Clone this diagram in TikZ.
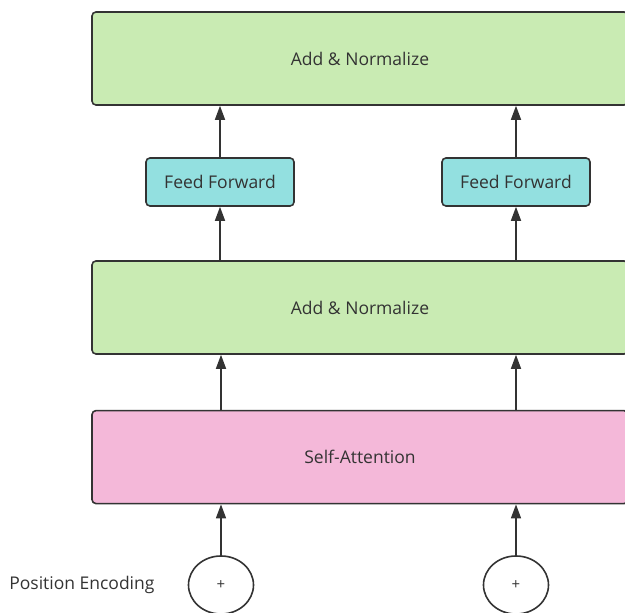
\documentclass[tikz,border=0pt]{standalone}
\usepackage{fontspec}
\setmainfont{Open Sans}
\usetikzlibrary{positioning,arrows.meta,shapes.geometric}
\definecolor{normgreen}{HTML}{C9EBB3}
\definecolor{ffcyan}{HTML}{93E0E0}
\definecolor{attnpink}{HTML}{F4B8D9}
\definecolor{linegray}{HTML}{333333}
\begin{document}
\begin{tikzpicture}[x=1pt, y=1pt,
      block/.style={rectangle, draw=linegray, line width=1.6pt, rounded corners=4pt,
                    minimum width=536pt, minimum height=93pt, align=center,
                    font=\fontsize{17.5}{20}\selectfont, text=linegray},
      ffbox/.style={block, minimum width=148pt, minimum height=48pt, fill=ffcyan},
      adder/.style={ellipse, draw=linegray, line width=1.6pt, minimum width=65pt,
                    minimum height=58pt, inner sep=0pt, font=\fontsize{15}{17}\selectfont,
                    text=linegray},
      flow/.style={-{Triangle[length=14pt,width=10pt]}, draw=linegray, line width=1.6pt}]
    \useasboundingbox (0,0) rectangle (625,613);
    \node[block, fill=normgreen] (norm2) at (360,554.5) {Add \& Normalize};
    \node[block, fill=normgreen] (norm1) at (360,305.5) {Add \& Normalize};
    \node[block, fill=attnpink, below=55pt of norm1] (attn) {Self-Attention};
    \node[ffbox] (ff1) at (220,431) {Feed Forward};
    \node[ffbox] (ff2) at (516,431) {Feed Forward};
    \node[adder] (pe1) at (221,28) {+};
    \node[adder] (pe2) at (516,28) {+};
    \node[left=33pt of pe1, inner sep=0pt, font=\fontsize{17.5}{20}\selectfont, text=linegray] (pelabel) {Position Encoding};
    \draw[flow] (pe1) -- (pe1 |- attn.south);
    \draw[flow] (pe2) -- (pe2 |- attn.south);
    \draw[flow] (attn.north -| pe1) -- (norm1.south -| pe1);
    \draw[flow] (attn.north -| pe2) -- (norm1.south -| pe2);
    \draw[flow] (norm1.north -| ff1) -- (ff1);
    \draw[flow] (norm1.north -| ff2) -- (ff2);
    \draw[flow] (ff1) -- (ff1 |- norm2.south);
    \draw[flow] (ff2) -- (ff2 |- norm2.south);
  \end{tikzpicture}
\end{document}
